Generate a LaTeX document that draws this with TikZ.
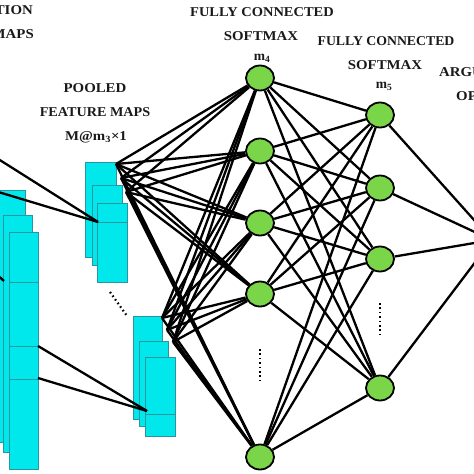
\documentclass[tikz,border=0pt]{standalone}
\usepackage{fontspec}
\setmainfont{Liberation Serif}
\usetikzlibrary{shapes.geometric}
\definecolor{mapfill}{RGB}{0,232,236}
\definecolor{mapedge}{RGB}{40,150,160}
\definecolor{neuron}{RGB}{122,214,72}
\begin{document}
\begin{tikzpicture}[x=1pt,y=-1pt,
  fmap/.style={fill=mapfill, draw=mapedge, line width=0.8pt},
  neuronnode/.style={ellipse, fill=neuron, draw=black, line width=1.8pt, minimum width=28pt, minimum height=25pt, inner sep=0pt},
  conn/.style={line width=2.3pt, black},
  dotline/.style={line width=2.2pt, black, dash pattern=on 1.6pt off 2.8pt},
  lbl/.style={font=\bfseries\fontsize{13.5}{13.5}\selectfont, inner sep=0pt, text=black!90}
]
\useasboundingbox (0,0) rectangle (474,474);
\clip (0,0) rectangle (474,474);

% labels
\node[lbl, anchor=east] (t1) at (33,10) {\scalebox{1.1}[1]{CONVOLUTION}};
\node[lbl, anchor=east] (t2) at (34,34) {\scalebox{1.1}[1]{FEATURE MAPS}};
\node[lbl] (t3) at (95,88) {\scalebox{1.1}[1]{POOLED}};
\node[lbl] (t4) at (95,112) {\scalebox{1.05}[1]{FEATURE MAPS}};
\node[lbl] (t5) at (96,137) {\scalebox{1.1}[1]{M@m\textsubscript{3}×1}};
\node[lbl] (t6) at (262,12) {\scalebox{1.07}[1]{FULLY CONNECTED}};
\node[lbl] (t7) at (261,36) {\scalebox{1.1}[1]{SOFTMAX}};
\node[lbl] (t8) at (262,58) {m\textsubscript{4}};
\node[lbl] (t9) at (386,41) {\scalebox{1.02}[1]{FULLY CONNECTED}};
\node[lbl] (t10) at (385,65) {\scalebox{1.1}[1]{SOFTMAX}};
\node[lbl] (t11) at (384,86) {m\textsubscript{5}};
\node[lbl, anchor=west] (t12) at (439,72) {\scalebox{1.1}[1]{ARGUMENT}};
\node[lbl, anchor=west] (t13) at (456,96) {\scalebox{1.1}[1]{OPERATOR}};

% big feature maps (left)
\draw[fmap] (-10,190) rectangle (25,442);
\draw[fmap] (3,215) rectangle (32,452);
\draw[fmap] (9,232) rectangle (38,469);
\draw[mapedge, line width=0.8pt] (9,282) -- (38,282) (9,346) -- (38,346) (9,379) -- (38,379);

% pooled group 1
\draw[fmap] (85,162) rectangle (116,257);
\draw[fmap] (92,185) rectangle (122,265);
\draw[fmap] (97,203) rectangle (127,282);
\draw[mapedge, line width=0.8pt] (97,222) -- (127,222);

% pooled group 2
\draw[fmap] (133,316) rectangle (162,419);
\draw[fmap] (139,341) rectangle (168,426);
\draw[fmap] (145,357) rectangle (175,436);
\draw[mapedge, line width=0.8pt] (145,414) -- (175,414);

% dots between pooled groups
\draw[dotline] (110,292) -- (127,316);

% connectors conv -> pooled
\coordinate (c1) at (-5,157);
\coordinate (c2) at (-5,191);
\coordinate (p1) at (98,222);
\coordinate (c3) at (38,346);
\coordinate (c4) at (38,378);
\coordinate (p2) at (147,411);
\coordinate (c5) at (-6,272);
\coordinate (c6) at (4,281);
\draw[conn] (c1) -- (p1);
\draw[conn] (c2) -- (p1);
\draw[conn] (c3) -- (p2);
\draw[conn] (c4) -- (p2);
\draw[conn] (c5) -- (c6);

% neurons
\foreach \n/\y in {1/78,2/151,3/223,4/294,5/457}
  \node[neuronnode] (a\n) at (260,\y) {};
\foreach \n/\y in {1/115,2/188,3/259,4/388}
  \node[neuronnode] (b\n) at (380,\y) {};
\node[neuronnode, minimum width=30pt, minimum height=28pt] (out) at (492,240) {};

\draw[dotline] (260,349) -- (260,382);
\draw[dotline] (380,303) -- (380,334);

% sources on pooled maps
\coordinate (s1) at (116,164);
\coordinate (s2) at (121,178);
\coordinate (s3) at (126,192);
\coordinate (s4) at (162,318);
\coordinate (s5) at (167,330);
\coordinate (s6) at (173,342);
\foreach \s in {1,...,6}
  \foreach \n in {1,...,5}
    \draw[conn] (s\s) -- (a\n);

\foreach \n in {1,...,5}
  \foreach \m in {1,...,4}
    \draw[conn] (a\n) -- (b\m);

\foreach \m in {1,...,4}
  \draw[conn] (b\m) -- (out);
\end{tikzpicture}
\end{document}
